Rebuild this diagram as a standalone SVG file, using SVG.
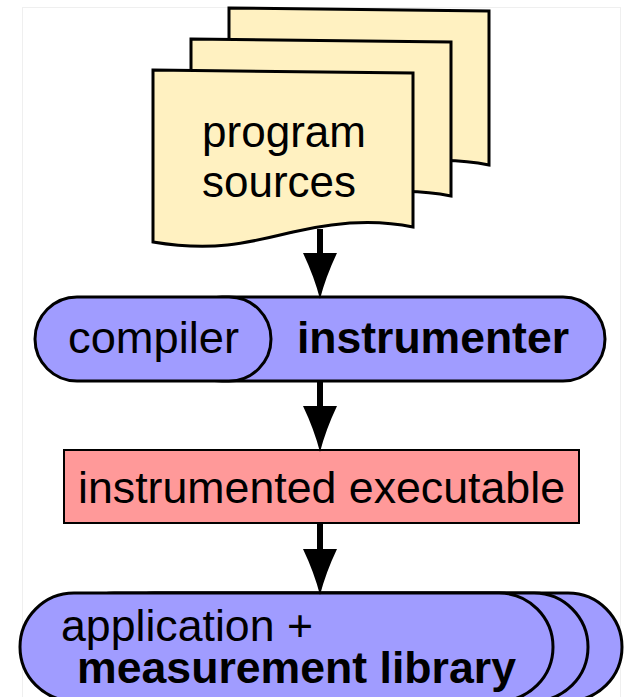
<svg xmlns="http://www.w3.org/2000/svg" width="626" height="697" viewBox="0 0 626 697">
<style>
.doc{fill:#fff1c1;stroke:#000;stroke-width:3;stroke-linejoin:miter}
.pill{fill:#a09cff;stroke:#000;stroke-width:3}
.box{fill:#ff9999;stroke:#000;stroke-width:2}
.t{font-family:"Liberation Sans",Arial,sans-serif;font-size:45px;fill:#000}
.b{font-weight:bold}
.conn{stroke:#000;stroke-width:6;fill:none}
</style>
<defs>
<path id="docshape" d="M0,0 L260,3 L260,157 C227,150 190,150 140,162 C95,173 60,182 0,172 Z"/>
<marker id="ah" markerUnits="userSpaceOnUse" markerWidth="46" markerHeight="34" viewBox="0 0 46 34" refX="0" refY="17" orient="auto">
<path d="M0,0 Q23,11 46,17 Q23,23 0,34 Z" fill="#000"/>
</marker>
</defs>
<rect x="22.5" y="7.5" width="598" height="700" fill="#fff" stroke="#efefef" stroke-width="1"/>
<g id="program-sources">
<use href="#docshape" class="doc" transform="translate(229,8)"/>
<use href="#docshape" class="doc" transform="translate(191,39)"/>
<use href="#docshape" class="doc" transform="translate(153,70)"/>
<text class="t" x="202" y="147" textLength="164" lengthAdjust="spacingAndGlyphs">program</text>
<text class="t" x="202" y="197" textLength="154" lengthAdjust="spacingAndGlyphs">sources</text>
</g>
<g id="instrumenter">
<rect class="pill" x="180" y="297" width="425" height="84" rx="42" ry="42"/>
<text class="t b" x="297" y="353" textLength="272" lengthAdjust="spacingAndGlyphs">instrumenter</text>
</g>
<g id="compiler">
<rect class="pill" x="35" y="297" width="236" height="84" rx="42" ry="42"/>
<text class="t" x="68" y="353" textLength="171" lengthAdjust="spacingAndGlyphs">compiler</text>
</g>
<g id="instrumented-executable">
<rect class="box" x="64" y="450" width="515" height="73"/>
<text class="t" x="78" y="503" textLength="487" lengthAdjust="spacingAndGlyphs">instrumented executable</text>
</g>
<g id="application">
<rect class="pill" x="100" y="593" width="522" height="108" rx="54" ry="54"/>
<rect class="pill" x="60" y="593" width="528" height="108" rx="54" ry="54"/>
<rect class="pill" x="20" y="593" width="533" height="108" rx="54" ry="54"/>
<text class="t" x="61" y="641" textLength="252" lengthAdjust="spacingAndGlyphs">application +</text>
<text class="t b" x="77" y="683" textLength="439" lengthAdjust="spacingAndGlyphs">measurement library</text>
</g>
<g id="connectors">
<line class="conn" x1="320" y1="229" x2="320" y2="253" marker-end="url(#ah)"/>
<line class="conn" x1="320" y1="382" x2="320" y2="406" marker-end="url(#ah)"/>
<line class="conn" x1="320" y1="524" x2="320" y2="549" marker-end="url(#ah)"/>
</g>
</svg>
